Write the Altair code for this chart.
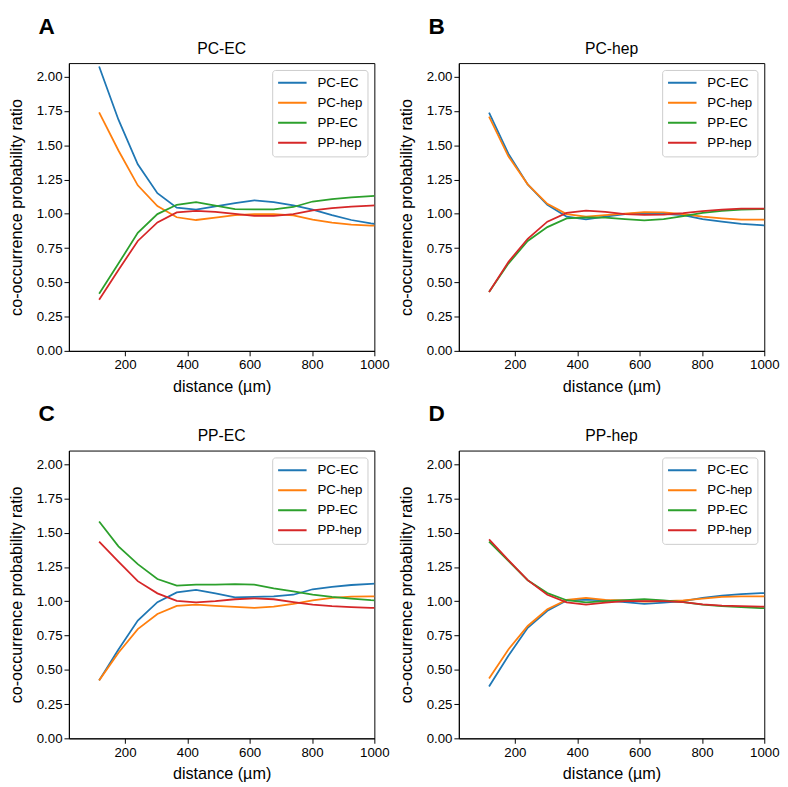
import altair as alt
import pandas as pd

FONT = "Liberation Sans"

pairs = ["PC-EC", "PC-hep", "PP-EC", "PP-hep"]
colors = ["#1f77b4", "#ff7f0e", "#2ca02c", "#d62728"]

distance = [117, 179, 241, 304, 366, 428, 490, 553, 615, 677, 740, 802, 864, 926, 989, 1051]

# Panel A: PC-EC
a_pc_ec = [2.075, 1.687, 1.361, 1.151, 1.045, 1.030, 1.055, 1.078, 1.099, 1.085, 1.062, 1.030, 0.990, 0.955, 0.930, 0.910]
a_pc_hep = [1.741, 1.462, 1.208, 1.057, 0.975, 0.955, 0.972, 0.990, 0.998, 0.998, 0.988, 0.957, 0.935, 0.922, 0.914, 0.910]
a_pp_ec = [0.417, 0.637, 0.861, 0.998, 1.066, 1.085, 1.060, 1.035, 1.033, 1.033, 1.050, 1.090, 1.107, 1.120, 1.130, 1.135]
a_pp_hep = [0.373, 0.590, 0.802, 0.937, 1.010, 1.022, 1.015, 1.000, 0.985, 0.985, 0.998, 1.025, 1.042, 1.053, 1.060, 1.065]

# Panel B: PC-hep
b_pc_ec = [1.738, 1.439, 1.215, 1.066, 0.979, 0.960, 0.979, 0.998, 1.007, 1.000, 0.990, 0.962, 0.943, 0.927, 0.917, 0.910]
b_pc_hep = [1.710, 1.420, 1.215, 1.073, 0.998, 0.979, 0.990, 1.002, 1.012, 1.010, 0.998, 0.979, 0.967, 0.958, 0.958, 0.958]
b_pp_ec = [0.429, 0.637, 0.802, 0.903, 0.967, 0.974, 0.972, 0.962, 0.953, 0.962, 0.983, 1.007, 1.021, 1.031, 1.035, 1.037]
b_pp_hep = [0.429, 0.649, 0.818, 0.943, 1.007, 1.024, 1.014, 0.998, 0.993, 0.995, 1.005, 1.019, 1.031, 1.038, 1.038, 1.038]

# Panel C: PP-EC
c_pc_ec = [0.423, 0.649, 0.860, 0.994, 1.065, 1.083, 1.058, 1.029, 1.032, 1.036, 1.048, 1.088, 1.105, 1.119, 1.128, 1.130]
c_pc_hep = [0.423, 0.625, 0.797, 0.907, 0.966, 0.975, 0.966, 0.959, 0.952, 0.961, 0.982, 1.006, 1.025, 1.034, 1.036, 1.037]
c_pp_ec = [1.582, 1.401, 1.271, 1.163, 1.114, 1.121, 1.121, 1.126, 1.121, 1.095, 1.072, 1.048, 1.032, 1.020, 1.008, 1.005]
c_pp_hep = [1.436, 1.290, 1.147, 1.058, 1.004, 0.992, 1.001, 1.015, 1.022, 1.015, 0.994, 0.975, 0.964, 0.957, 0.952, 0.950]

# Panel D: PP-hep
d_pc_ec = [0.378, 0.602, 0.807, 0.931, 1.006, 1.013, 1.006, 0.994, 0.982, 0.990, 1.001, 1.025, 1.041, 1.053, 1.060, 1.062]
d_pc_hep = [0.437, 0.649, 0.820, 0.942, 1.010, 1.025, 1.010, 1.006, 0.998, 1.001, 1.006, 1.020, 1.032, 1.036, 1.036, 1.036]
d_pp_ec = [1.436, 1.295, 1.154, 1.060, 1.008, 0.992, 1.001, 1.008, 1.015, 1.006, 0.994, 0.975, 0.964, 0.957, 0.950, 0.948]
d_pp_hep = [1.452, 1.300, 1.154, 1.048, 0.992, 0.975, 0.990, 1.001, 1.001, 1.001, 0.994, 0.978, 0.968, 0.964, 0.961, 0.960]

x_ticks = [200, 400, 600, 800, 1000]
y_ticks = [0.0, 0.25, 0.5, 0.75, 1.0, 1.25, 1.5, 1.75, 2.0]

panels = [
    ("A", "PC-EC", [a_pc_ec, a_pc_hep, a_pp_ec, a_pp_hep]),
    ("B", "PC-hep", [b_pc_ec, b_pc_hep, b_pp_ec, b_pp_hep]),
    ("C", "PP-EC", [c_pc_ec, c_pc_hep, c_pp_ec, c_pp_hep]),
    ("D", "PP-hep", [d_pc_ec, d_pc_hep, d_pp_ec, d_pp_hep]),
]

W, H = 311, 293


def make_panel(letter, title, series):
    rows = []
    for pair, vals in zip(pairs, series):
        for d, v in zip(distance, vals):
            rows.append({"distance": d, "ratio": v, "pair": pair})
    df = pd.DataFrame(rows)
    lines = alt.Chart(df).mark_line(strokeWidth=1.8, clip=True).encode(
        x=alt.X("distance:Q",
                scale=alt.Scale(domain=[20, 1000], nice=False, zero=False),
                axis=alt.Axis(values=x_ticks, format="d", title="distance (µm)",
                              titlePadding=7.5)),
        y=alt.Y("ratio:Q",
                scale=alt.Scale(domain=[0, 2.1], nice=False),
                axis=alt.Axis(values=y_ticks, format=".2f",
                              title="co-occurrence probability ratio",
                              titlePadding=12)),
        color=alt.Color("pair:N",
                        scale=alt.Scale(domain=pairs, range=colors),
                        legend=alt.Legend(title=None, orient="top-right", offset=7,
                                          symbolType="stroke", symbolSize=841,
                                          symbolStrokeWidth=2, labelOffset=10,
                                          clipHeight=16, rowPadding=4.4, padding=5,
                                          fillColor="rgba(255,255,255,0.8)",
                                          strokeColor="#cccccc", cornerRadius=3,
                                          labelFont=FONT, labelFontSize=13.5,
                                          labelColor="black")),
        order=alt.Order("distance:Q"),
    )
    texts = pd.DataFrame({"letter": [letter], "title": [title]})
    lab = alt.Chart(texts).mark_text(
        font=FONT, fontSize=23, fontWeight="bold", align="left",
        baseline="alphabetic", color="black"
    ).encode(text="letter:N", x=alt.value(-31), y=alt.value(-30))
    ttl = alt.Chart(texts).mark_text(
        font=FONT, fontSize=16, align="center", baseline="alphabetic", color="black"
    ).encode(text="title:N", x=alt.value(W / 2), y=alt.value(-9.3))
    return alt.layer(lines, lab, ttl).properties(width=W, height=H)


charts = [make_panel(*p) for p in panels]

chart = alt.concat(
    *charts, columns=2, spacing={"row": 101.5, "column": 86}, bounds="flush"
).resolve_scale(color="independent").resolve_legend(color="independent").properties(
    padding=0
).configure_view(
    stroke="black", strokeWidth=1
).configure_axis(
    grid=False, domainColor="black", domainWidth=1, tickColor="black", tickSize=5,
    tickWidth=1, labelFont=FONT, labelFontSize=13.5, labelColor="black", labelPadding=2,
    labelFlush=False,
    titleFont=FONT, titleFontSize=16.5, titleFontWeight="normal", titleColor="black",
)

chart.save("out.html", embed_options={"renderer": "svg", "actions": False})
